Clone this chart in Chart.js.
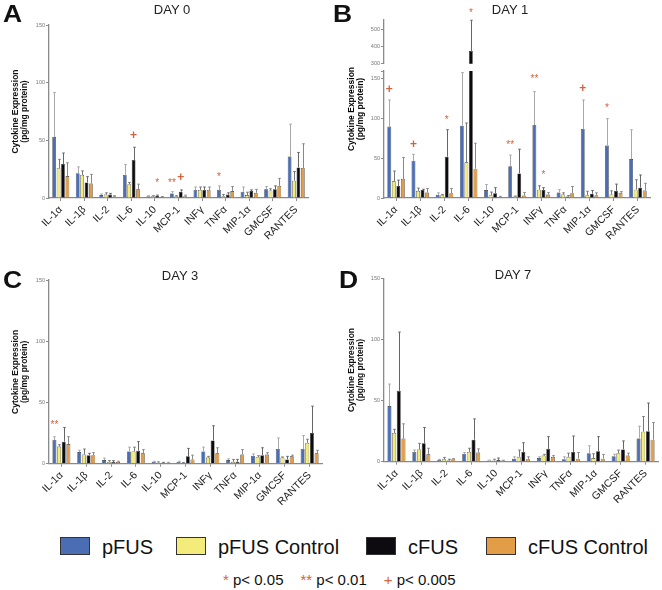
<!DOCTYPE html>
<html>
<head>
<meta charset="utf-8">
<script src="https://cdn.jsdelivr.net/npm/chart.js@4.4.0/dist/chart.umd.min.js"></script>
<style>
  body { margin: 0; background: #fff; font-family: 'Liberation Sans', Arial, Helvetica, sans-serif; }
  #fig { position: relative; width: 662px; height: 590px; overflow: hidden; }
  canvas { position: absolute; }
  .letter { position: absolute; font-weight: bold; font-size: 23px; line-height: 23px; color: #111;
            transform: scaleX(1.15); transform-origin: left top; }
  .day { position: absolute; font-size: 13px; line-height: 13px; color: #222; white-space: nowrap;
         transform: translateX(-50%); }
  .ytitle { position: absolute; width: 90px; height: 18px; font-weight: bold; font-size: 8.5px;
            line-height: 9px; text-align: center; color: #000; transform: rotate(-90deg); white-space: nowrap; }
  .lg-box { position: absolute; width: 30px; height: 18px; top: 537px; box-sizing: border-box; border: 1px solid #333; }
  .lg-txt { position: absolute; top: 536.6px; font-size: 20px; line-height: 20px; color: #111; white-space: nowrap; }
  #sigkey { position: absolute; left: 223px; top: 571.7px; font-size: 15px; line-height: 15px; color: #111; white-space: nowrap; }
  #sigkey span.item { margin-right: 17px; }
  #sigkey span.sym { color: #d5623c; }
</style>
</head>
<body>
<div id="fig">
  <canvas id="cA" width="312" height="240" style="left:0px;top:0px"></canvas>
  <canvas id="cBtop" width="324" height="68" style="left:330px;top:0px"></canvas>
  <canvas id="cBbot" width="324" height="240" style="left:330px;top:0px"></canvas>
  <canvas id="cC" width="326" height="272" style="left:0px;top:240px"></canvas>
  <canvas id="cD" width="332" height="272" style="left:330px;top:240px"></canvas>

  <div class="letter" style="left:3px;top:3px">A</div>
  <div class="letter" style="left:333px;top:3px">B</div>
  <div class="letter" style="left:3px;top:269px">C</div>
  <div class="letter" style="left:339px;top:269px">D</div>

  <div class="day" style="left:172px;top:3px">DAY 0</div>
  <div class="day" style="left:510px;top:3px">DAY 1</div>
  <div class="day" style="left:180px;top:269px">DAY 3</div>
  <div class="day" style="left:513px;top:268px">DAY 7</div>

  <div class="ytitle" style="left:311px;top:100px">Cytokine Expression<br>(pg/mg protein)</div>
  <div id="legend"></div>
  <div id="sigkey"></div>
</div>

<script>
const cytokines = ['IL-1α', 'IL-1β', 'IL-2', 'IL-6', 'IL-10', 'MCP-1', 'INFγ', 'TNFα', 'MIP-1α', 'GMCSF', 'RANTES'];
const seriesNames = ['pFUS', 'pFUS Control', 'cFUS', 'cFUS Control'];
const seriesColors = ['#4a6db4', '#f3ec7b', '#0d0b0f', '#e39d47'];
const errColors = ['#a8a8a8', '#777777', '#666666', '#888888'];
const yTitle = ['Cytokine Expression', '(pg/mg protein)'];

// rows: pFUS, pFUS Control, cFUS, cFUS Control
const day0Mean = [
  [53, 21.5, 2.5, 20, 1.5, 4, 7, 7, 5.5, 7.5, 36],
  [26, 20, 3, 12, 1.5, 1.5, 7, 1.5, 2.5, 6.5, 15],
  [29.5, 13.5, 3, 33, 2, 5.5, 7, 3, 6, 7.5, 26.5],
  [19, 12.5, 1.5, 7.5, 1, 1.5, 7, 6, 4.5, 10.5, 26]
];
const day0Err = [
  [38.5, 5.5, 1, 9, 0.5, 1.5, 2.5, 3.5, 4, 2.5, 28],
  [7.5, 3.5, 1.5, 1.5, 0.5, 0.5, 2.5, 1.5, 2.5, 1.5, 8],
  [9.5, 5, 1, 11, 0.5, 1.5, 2.5, 1.5, 1, 3, 13],
  [11.5, 8, 0.5, 4.5, 0.3, 1, 2.5, 4, 3, 6.5, 21]
];
const day1Mean = [
  [90, 47, 4, 91, 10, 40, 92, 7, 87, 66, 49],
  [21, 9, 3.5, 45, 3.5, 2, 10.5, 4.5, 3.5, 4.5, 10.5],
  [15, 10, 52, 375, 6, 31, 10, 2, 5.5, 9, 13],
  [24, 7, 6, 37, 1.3, 3, 4.5, 6, 3.5, 6.5, 9.5]
];
const day1Err = [
  [33.5, 8, 2.5, 67, 7, 14, 42, 3.5, 36.5, 34, 37],
  [13, 3.5, 1, 49.5, 4, 0.5, 5, 2, 5, 4.5, 12.5],
  [7.5, 1, 34, 180, 7, 30.5, 3, 1, 4, 8.5, 16],
  [27, 5, 6, 32, 0.8, 4, 2.5, 8.5, 3, 1.5, 9]
];
const day3Mean = [
  [19.5, 9.5, 3, 10, 1.5, 1.5, 10, 3, 6.5, 12, 12],
  [14, 7.5, 1.5, 10, 1, 0.5, 5, 1.5, 5.5, 5, 17],
  [18, 7, 1.5, 10.5, 0.8, 6, 19, 1.5, 7, 3.5, 25],
  [16, 7, 1.5, 8.5, 0.8, 3.5, 8.5, 7.5, 7.5, 6, 8.5]
];
const day3Err = [
  [2.5, 1.5, 1.5, 3.5, 0.5, 0.5, 3.5, 1, 1.5, 9, 11],
  [1.5, 4.5, 1, 3.5, 0.5, 0.5, 1, 2, 1, 0.5, 3],
  [11.5, 1.5, 1, 7.5, 0.3, 6.5, 12, 2, 6, 2.5, 22],
  [6, 2, 0.5, 3, 0.3, 3.5, 4.5, 4, 1.5, 1, 2.5]
];
const day7Mean = [
  [45.5, 8, 1.5, 6.5, 1, 2.5, 3, 2, 7, 4.5, 19],
  [23.5, 10, 2, 8, 1, 4, 5, 4, 3, 7, 24.5],
  [58, 15, 1, 18, 1.5, 8, 10.5, 8, 8.5, 10, 25],
  [19, 6, 2, 7.5, 1, 2, 4, 2.5, 2.5, 5, 18]
];
const day7Err = [
  [18, 1.5, 0.5, 1, 0.3, 1.5, 1, 2, 6, 1.5, 10],
  [3, 5, 1.5, 3, 1, 5.5, 1, 3, 3.5, 2.5, 12.5],
  [48, 13, 1, 17, 1.5, 7.5, 10, 13, 12, 7, 23],
  [12, 5, 0.5, 3, 0.2, 2, 1, 5, 3.5, 2, 14]
];

// significance marks: [cytokine index, series index, height, symbol]
const sigDay0 = [[3, 2, 54.6, '+'], [4, 2, 15.6, '*'], [5, 0, 15.6, '**'], [5, 2, 18, '+'], [7, 0, 20.8, '*']];
const sigDay1 = [[0, 0, 137.6, '+'], [1, 0, 67.5, '+'], [2, 2, 102, '*'], [5, 0, 70.5, '**'],
                 [6, 0, 153.8, '**'], [6, 2, 31.8, '*'], [8, 0, 138.5, '+'], [9, 0, 117, '*']];
const sigDay1Top = [[3, 2, 610, '*']];
const sigDay3 = [[0, 0, 34, '**']];
const sigDay7 = [];

const sigSymbols = ['*', '**', '+'];
const sigLabels = ['p< 0.05', 'p< 0.01', 'p< 0.005'];

const FONT = "'Liberation Sans', Arial, Helvetica, sans-serif";
const axisColor = '#8a8a8a';
const sigColor = '#d5623c';
Chart.defaults.font.family = FONT;

// whiskers above each bar (mean + error)
const errorBars = {
  id: 'errorBars',
  afterDatasetsDraw(chart) {
    const { ctx, chartArea } = chart;
    ctx.save();
    ctx.beginPath();
    ctx.rect(chartArea.left, chartArea.top, chartArea.width, chartArea.height);
    ctx.clip();
    chart.data.datasets.forEach((ds, i) => {
      const meta = chart.getDatasetMeta(i);
      const yScale = chart.scales[meta.yAxisID];
      ctx.strokeStyle = ds.errColor;
      ctx.lineWidth = 1;
      meta.data.forEach((bar, j) => {
        const top = yScale.getPixelForValue(ds.data[j] + ds.err[j]);
        const x = Math.round(bar.x) + 0.5;
        ctx.beginPath();
        ctx.moveTo(x, bar.y);
        ctx.lineTo(x, top);
        ctx.moveTo(x - 1.3, top);
        ctx.lineTo(x + 1.3, top);
        ctx.stroke();
      });
    });
    ctx.restore();
  }
};

function sigPlugin(marks) {
  return {
    id: 'sigMarks',
    afterDraw(chart) {
      const ctx = chart.ctx;
      ctx.save();
      ctx.fillStyle = sigColor;
      ctx.textAlign = 'center';
      ctx.textBaseline = 'alphabetic';
      marks.forEach(([cat, ser, val, sym]) => {
        const bar = chart.getDatasetMeta(ser).data[cat];
        const y = chart.scales.y.getPixelForValue(val);
        const plus = sym === '+';
        const size = plus ? 12 : 10;
        ctx.font = (plus ? 'bold ' : '') + size + 'px ' + FONT;
        ctx.fillText(sym, bar.x, y + size * (plus ? 0.33 : 0.57));
      });
      ctx.restore();
    }
  };
}

function panel(id, means, errs, o) {
  return new Chart(document.getElementById(id), {
    type: 'bar',
    data: {
      labels: cytokines,
      datasets: seriesNames.map((name, i) => ({
        label: name,
        data: means[i],
        err: errs[i],
        errColor: errColors[i],
        backgroundColor: seriesColors[i],
        borderColor: '#2a2a2a',
        borderWidth: 0.6,
        categoryPercentage: 0.75,
        barPercentage: 0.85,
        clip: 0
      }))
    },
    options: {
      responsive: false,
      animation: false,
      layout: { padding: o.pad },
      plugins: { legend: { display: false }, tooltip: { enabled: false } },
      scales: {
        x: {
          display: o.showX,
          offset: true,
          grid: { offset: false, drawOnChartArea: false, tickLength: 3, color: axisColor },
          border: { color: axisColor, width: 1.3 },
          ticks: { autoSkip: false, minRotation: 45, maxRotation: 45, padding: 2.5, color: '#222',
                   font: { size: 10.5 } },
          afterFit: s => { s.height = o.xh; }
        },
        y: {
          min: o.min,
          max: o.max,
          ticks: { stepSize: o.step, includeBounds: o.bounds, padding: 1, color: '#777',
                   font: { size: 5.5 }, callback: v => (v === o.hide ? '' : v) },
          grid: { drawOnChartArea: false, tickLength: 3, color: axisColor },
          border: { color: axisColor, width: 1.3 },
          title: { display: o.title, text: yTitle, color: '#111', padding: 0,
                   font: { size: 8.5, weight: 'bold', lineHeight: 1 } },
          afterFit: s => { s.width = o.yw; }
        }
      }
    },
    plugins: [errorBars, sigPlugin(o.marks)]
  });
}

panel('cA', day0Mean, day0Err, {
  pad: { left: 11.5, top: 25, right: 4, bottom: 0 }, xh: 42, yw: 37.5, showX: true,
  min: 0, max: 150, step: 50, bounds: true, title: true, marks: sigDay0
});
panel('cBtop', day1Mean, day1Err, {
  pad: { left: 0, top: 19.3, right: 4, bottom: 3.7 }, xh: 0, yw: 54, showX: false,
  min: 300, max: 560, step: 100, bounds: false, title: false, marks: sigDay1Top
});
panel('cBbot', day1Mean, day1Err, {
  pad: { left: 0, top: 71, right: 4, bottom: 0 }, xh: 42, yw: 54, showX: true,
  min: 0, max: 160, step: 50, bounds: true, hide: 160, title: false, marks: sigDay1
});
panel('cC', day3Mean, day3Err, {
  pad: { left: 11.5, top: 40, right: 4, bottom: 0 }, xh: 48.3, yw: 37.5, showX: true,
  min: 0, max: 150, step: 50, bounds: true, title: true, marks: sigDay3
});
panel('cD', day7Mean, day7Err, {
  pad: { left: 17.45, top: 38.3, right: 4, bottom: 0 }, xh: 50.3, yw: 36.55, showX: true,
  min: 0, max: 150, step: 50, bounds: true, title: true, marks: sigDay7
});

// legend and significance key
const legendX = [60, 176, 366, 486];
const legend = document.getElementById('legend');
seriesNames.forEach((name, i) => {
  const box = document.createElement('div');
  box.className = 'lg-box';
  box.style.left = legendX[i] + 'px';
  box.style.background = seriesColors[i];
  const txt = document.createElement('div');
  txt.className = 'lg-txt';
  txt.style.left = (legendX[i] + 42) + 'px';
  txt.textContent = name;
  legend.appendChild(box);
  legend.appendChild(txt);
});
document.getElementById('sigkey').innerHTML = sigSymbols
  .map((s, i) => `<span class="item"><span class="sym">${s}</span> ${sigLabels[i]}</span>`)
  .join('');
</script>
</body>
</html>
